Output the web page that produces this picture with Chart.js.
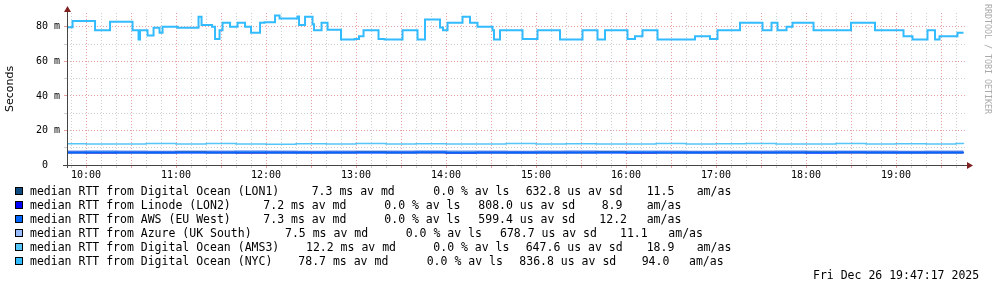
<!DOCTYPE html>
<html>
<head>
<meta charset="utf-8">
<script src="https://cdn.jsdelivr.net/npm/chart.js@4"></script>
<style>
body { margin: 0; background: #fff; }
#wrap { position: relative; width: 997px; height: 289px; overflow: hidden; }
#c { position: absolute; left: 0; top: 0; }
.lg { position: absolute; font: 11.5px "DejaVu Sans Mono", monospace; white-space: pre; line-height: 14px; color: #000; }
.sw { position: absolute; width: 6px; height: 6px; border: 1px solid #000; }
#credit { position: absolute; left: 983px; top: 4px; font: 8.3px "DejaVu Sans Mono", monospace; color: #aaa; writing-mode: vertical-rl; }
</style>
</head>
<body>
<div id="wrap">
  <canvas id="c" width="997" height="289"></canvas>
  <div id="credit">RRDTOOL / TOBI OETIKER</div>
</div>
<script>
// time axis is minutes since midnight
var hourLabels = ["10:00", "11:00", "12:00", "13:00", "14:00", "15:00", "16:00", "17:00", "18:00", "19:00"];
var yTickLabels = { 0: "0  ", 20: "20 m", 40: "40 m", 60: "60 m", 80: "80 m" };

var names = ["median RTT from Digital Ocean (LON1)", "median RTT from Linode (LON2)", "median RTT from AWS (EU West)",
             "median RTT from Azure (UK South)", "median RTT from Digital Ocean (AMS3)", "median RTT from Digital Ocean (NYC)"];
var avgMd = ["7.3", "7.2", "7.3", "7.5", "12.2", "78.7"];
var avgLs = ["0.0", "0.0", "0.0", "0.0", "0.0", "0.0"];
var avgSd = ["632.8", "808.0", "599.4", "678.7", "647.6", "836.8"];
var amAs = ["11.5", "8.9", "12.2", "11.1", "18.9", "94.0"];
var colors = ["#0c4a80", "#0000ff", "#0066ff", "#99bbff", "#55c4f6", "#33bbff"];

// values in ms
var lowT = [587, 600, 620, 640, 660, 680, 700, 720, 740, 760, 780, 800, 820, 840, 860, 880, 900, 920, 940, 960, 980, 1000, 1020, 1040, 1060, 1080, 1100, 1120, 1140, 1160, 1180, 1185];
var lon1 = [7.3, 7.3, 7.2, 7.3, 7.4, 7.3, 7.3, 7.2, 7.3, 7.3, 7.4, 7.3, 7.2, 7.3, 7.3, 7.3, 7.2, 7.3, 7.4, 7.3, 7.3, 7.2, 7.3, 7.3, 7.3, 7.4, 7.3, 7.2, 7.3, 7.3, 7.3, 7.3];
var lon2 = [7.2, 7.1, 7.2, 7.2, 7.3, 7.2, 7.1, 7.2, 7.2, 7.2, 7.3, 7.2, 7.2, 7.1, 7.2, 7.2, 7.3, 7.2, 7.2, 7.1, 7.2, 7.2, 7.2, 7.3, 7.2, 7.1, 7.2, 7.2, 7.2, 7.3, 7.2, 7.2];
var aws = [7.3, 7.4, 7.3, 7.3, 7.2, 7.3, 7.4, 7.3, 7.3, 7.3, 7.2, 7.3, 7.4, 7.3, 7.3, 7.2, 7.3, 7.3, 7.3, 7.4, 7.3, 7.3, 7.2, 7.3, 7.3, 7.3, 7.4, 7.3, 7.3, 7.2, 7.3, 7.3];
var azure = [7.5, 7.6, 7.5, 7.4, 7.5, 7.5, 7.6, 7.5, 7.4, 7.5, 7.5, 7.5, 7.6, 7.5, 7.5, 7.4, 7.5, 7.6, 7.5, 7.5, 7.5, 7.4, 7.5, 7.5, 7.6, 7.5, 7.5, 7.5, 7.4, 7.5, 7.5, 7.5];
var ams3 = [12.3, 12.2, 12.1, 12.4, 12.2, 12.5, 12.2, 12.0, 12.3, 12.2, 12.4, 12.2, 12.3, 12.1, 12.2, 12.5, 12.2, 12.3, 12.2, 12.1, 12.4, 12.2, 12.3, 12.5, 12.2, 12.2, 12.4, 12.1, 12.3, 12.2, 12.4, 12.3];

var nycT = [586, 591, 606, 616, 631, 635, 636, 641, 645, 649, 651, 661, 675, 677, 684, 686, 689, 691, 696, 701,
            706, 710, 716, 719, 726, 729, 741, 742, 746, 751, 752, 757, 761, 770, 779, 782, 785, 795, 799, 811,
            821, 826, 836, 838, 841, 851, 856, 861, 871, 872, 876, 891, 901, 916, 931, 941, 946, 961, 966, 971,
            981, 1006, 1016, 1021, 1036, 1051, 1057, 1061, 1067, 1071, 1085, 1110, 1126, 1145, 1151, 1161, 1166, 1169, 1181, 1185];
var nyc = [79.8, 83.3, 78, 82.9, 78, 72.6, 78, 75, 79.5, 76.5, 80, 79.5, 85.8, 81, 80, 73, 78, 82.4, 80, 82.4,
           80, 76.5, 82.4, 82.7, 86.5, 84.8, 86, 81, 85.9, 81.5, 78, 82.4, 78.3, 72.6, 73, 74.5, 78, 73, 72.6, 78,
           72.6, 84.2, 79.6, 78, 82.4, 85.9, 82.4, 80, 78, 72.6, 78, 73, 78, 72.6, 78, 72.6, 78, 73, 74.5, 78,
           72.6, 74.5, 73, 78, 82.4, 78, 82.4, 78, 80, 82.4, 78, 82.4, 78, 74.5, 72.6, 78, 72.6, 74.5, 76.5, 76.5];

var RED = "rgba(225,120,120,0.7)";
var GRAY = "rgba(185,185,185,0.7)";

function pts(ts, vs) {
  return ts.map(function (t, i) { return { x: t, y: vs[i] }; });
}

var series = [pts(lowT, lon1), pts(lowT, lon2), pts(lowT, aws), pts(lowT, azure), pts(lowT, ams3), pts(nycT, nyc)];
var widths = [1.5, 1.5, 1.5, 3.5, 1.5, 2];
var drawOrder = [2, 3, 1, 4, 0.5, 0];

// legend
var wrap = document.getElementById("wrap");
var rowY = [191, 205, 219, 233, 247, 261];
var mdX = [311.7, 263.3, 263.3, 285, 306, 298.3];
var lsX = [433.3, 384.3, 384.3, 405.7, 433.3, 426.7];
var sdX = [525.7, 478.3, 478.3, 500, 525.7, 519.3];
var amX = [646.7, 601.7, 599.3, 620, 646.7, 641.7];
var unitX = [696.7, 646.7, 646.7, 668.3, 696.7, 689];

function put(text, x, y) {
  var d = document.createElement("div");
  d.className = "lg";
  d.textContent = text;
  d.style.left = x + "px";
  d.style.top = (y - 7) + "px";
  wrap.appendChild(d);
}
for (var i = 0; i < names.length; i++) {
  var sw = document.createElement("div");
  sw.className = "sw";
  sw.style.left = "15px";
  sw.style.top = (rowY[i] - 4) + "px";
  sw.style.background = colors[i];
  wrap.appendChild(sw);
  put(names[i], 30, rowY[i]);
  put(avgMd[i] + " ms av md", mdX[i], rowY[i]);
  put(avgLs[i] + " % av ls", lsX[i], rowY[i]);
  put(avgSd[i] + " us av sd", sdX[i], rowY[i]);
  put(amAs[i], amX[i], rowY[i]);
  put("am/as", unitX[i], rowY[i]);
}
put("Fri Dec 26 19:47:17 2025", 813, 275);

var axes = {
  id: "axes",
  afterDraw: function (chart) {
    var ctx = chart.ctx, a = chart.chartArea;
    var yb = Math.round(a.bottom) + 0.5, xl = Math.round(a.left) + 0.5;
    ctx.save();
    ctx.strokeStyle = "#444";
    ctx.lineWidth = 1;
    ctx.beginPath();
    ctx.moveTo(a.left - 4, yb); ctx.lineTo(a.right + 3, yb);
    ctx.moveTo(xl, a.bottom + 3); ctx.lineTo(xl, a.top - 3);
    ctx.stroke();
    ctx.fillStyle = "#802020";
    ctx.beginPath();
    ctx.moveTo(a.right + 2, yb - 3.5); ctx.lineTo(a.right + 8, yb); ctx.lineTo(a.right + 2, yb + 3.5);
    ctx.closePath(); ctx.fill();
    ctx.beginPath();
    ctx.moveTo(xl - 3.5, a.top - 1); ctx.lineTo(xl, a.top - 7); ctx.lineTo(xl + 3.5, a.top - 1);
    ctx.closePath(); ctx.fill();
    ctx.restore();
  }
};

Chart.defaults.font.family = "DejaVu Sans Mono";

new Chart("c", {
  type: "line",
  data: {
    datasets: series.map(function (d, i) {
      return {
        label: names[i], data: d, borderColor: colors[i], borderWidth: widths[i],
        pointRadius: 0, stepped: "before", fill: false, order: drawOrder[i]
      };
    })
  },
  options: {
    responsive: false,
    animation: false,
    layout: { padding: { left: 0, top: 13, right: 32, bottom: 0 } },
    plugins: { legend: { display: false }, tooltip: { enabled: false } },
    scales: {
      x: {
        type: "linear", min: 587.3, max: 1186,
        afterFit: function (s) { s.height = 124; },
        afterBuildTicks: function (s) {
          var t = [];
          for (var v = 590; v <= 1180; v += 10) t.push({ value: v });
          s.ticks = t;
        },
        grid: {
          color: function (c) { return c.tick && c.tick.value % 30 === 0 ? RED : GRAY; },
          tickColor: function (c) { return c.tick && c.tick.value % 30 === 0 ? RED : GRAY; },
          tickLength: 3
        },
        border: { display: false, dash: [1, 2] },
        ticks: {
          autoSkip: false, maxRotation: 0, padding: 1, color: "#000", font: { size: 10 },
          callback: function (v) { return v % 60 === 0 ? hourLabels[(v - 600) / 60] : ""; }
        }
      },
      y: {
        min: 0, max: 88,
        afterFit: function (s) { s.width = 67; },
        afterBuildTicks: function (s) {
          var t = [];
          for (var v = 0; v <= 80; v += 10) t.push({ value: v });
          s.ticks = t;
        },
        grid: {
          color: function (c) {
            if (!c.tick || c.tick.value === 0) return "rgba(0,0,0,0)";
            return c.tick.value % 20 === 0 ? RED : GRAY;
          },
          tickColor: function (c) { return c.tick && c.tick.value % 20 === 0 ? RED : GRAY; },
          tickLength: 3
        },
        border: { display: false, dash: [1, 2] },
        ticks: {
          padding: 4, color: "#000", font: { size: 10 },
          callback: function (v) { return yTickLabels[v] !== undefined ? yTickLabels[v] : ""; }
        },
        title: {
          display: true, text: "Seconds", color: "#000",
          font: { family: "DejaVu Sans", size: 11 }, padding: { top: 4, bottom: 0 }
        }
      }
    }
  },
  plugins: [axes]
});
</script>
</body>
</html>
